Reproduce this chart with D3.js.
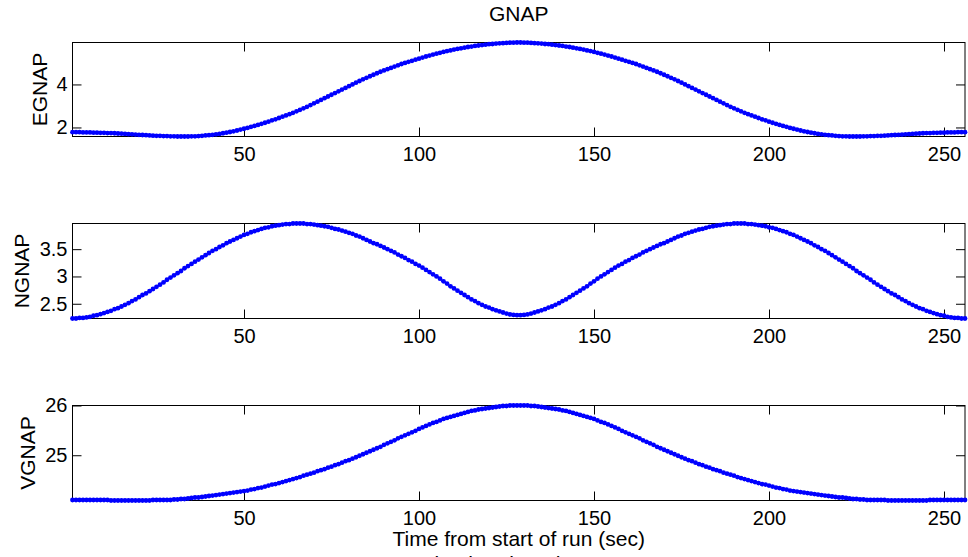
<!DOCTYPE html>
<html>
<head>
<meta charset="utf-8">
<script src="https://cdn.jsdelivr.net/npm/d3@7"></script>
<style>
  html, body { margin: 0; padding: 0; background: #fff; overflow: hidden; }
  svg { display: block; }
  text { font-family: "Liberation Sans", Arial, Helvetica, sans-serif; fill: #000; }
</style>
</head>
<body>
<svg id="chart" width="968" height="557"></svg>
<script>
// ---- data (time in seconds, 1..256) ----
const titleText = "GNAP";
const xLabelText = "Time from start of run (sec)";
const footerText = "Simulated Truth";
const xTicks = [50, 100, 150, 200, 250];

const egnapTicks = [2, 4];
const ngnapTicks = [2.5, 3, 3.5];
const vgnapTicks = [25, 26];

const egnap = [
1.78,1.78,1.78,1.77,1.77,1.77,1.76,1.76,1.75,1.75,
1.74,1.74,1.73,1.72,1.71,1.70,1.69,1.68,1.67,1.66,
1.65,1.64,1.63,1.62,1.61,1.61,1.60,1.60,1.59,1.59,
1.58,1.58,1.58,1.58,1.59,1.59,1.60,1.61,1.63,1.64,
1.66,1.68,1.70,1.73,1.76,1.79,1.82,1.86,1.90,1.94,
1.98,2.03,2.07,2.12,2.17,2.22,2.27,2.33,2.38,2.44,
2.50,2.56,2.62,2.68,2.75,2.82,2.89,2.96,3.04,3.12,
3.20,3.28,3.36,3.44,3.52,3.60,3.68,3.76,3.84,3.92,
4.00,4.08,4.16,4.24,4.31,4.38,4.45,4.52,4.59,4.65,
4.71,4.77,4.83,4.89,4.95,5.00,5.05,5.10,5.15,5.20,
5.25,5.30,5.34,5.39,5.43,5.47,5.51,5.55,5.58,5.62,
5.65,5.68,5.71,5.74,5.76,5.79,5.81,5.83,5.85,5.87,
5.88,5.90,5.91,5.92,5.93,5.94,5.94,5.95,
5.95,5.94,5.94,5.93,5.92,5.91,5.90,5.88,
5.87,5.85,5.83,5.81,5.79,5.76,5.74,5.71,5.68,5.65,
5.62,5.58,5.55,5.51,5.47,5.43,5.39,5.34,5.30,5.25,
5.20,5.15,5.10,5.05,5.00,4.95,4.89,4.83,4.77,4.71,
4.65,4.59,4.52,4.45,4.38,4.31,4.24,4.16,4.08,4.00,
3.92,3.84,3.76,3.68,3.60,3.52,3.44,3.36,3.28,3.20,
3.12,3.04,2.96,2.89,2.82,2.75,2.68,2.62,2.56,2.50,
2.44,2.38,2.33,2.27,2.22,2.17,2.12,2.07,2.03,1.98,
1.94,1.90,1.86,1.82,1.79,1.76,1.73,1.70,1.68,1.66,
1.64,1.63,1.61,1.60,1.59,1.59,1.58,1.58,1.58,1.58,
1.59,1.59,1.60,1.60,1.61,1.61,1.62,1.63,1.64,1.65,
1.66,1.67,1.68,1.69,1.70,1.71,1.72,1.73,1.74,1.74,
1.75,1.75,1.76,1.76,1.77,1.77,1.77,1.78,1.78,1.78
];

const ngnap = [
2.23,2.23,2.24,2.24,2.25,2.26,2.28,2.29,2.31,2.33,
2.35,2.37,2.40,2.42,2.45,2.48,2.51,2.55,2.58,2.62,
2.66,2.69,2.73,2.77,2.81,2.85,2.89,2.94,2.98,3.02,
3.06,3.10,3.15,3.19,3.23,3.27,3.31,3.35,3.39,3.43,
3.47,3.50,3.54,3.57,3.61,3.64,3.67,3.70,3.73,3.76,
3.78,3.81,3.83,3.85,3.87,3.89,3.90,3.92,3.93,3.94,
3.95,3.96,3.96,3.97,3.97,3.97,3.97,3.96,3.96,3.95,
3.94,3.93,3.92,3.91,3.89,3.87,3.86,3.84,3.82,3.80,
3.78,3.75,3.73,3.70,3.67,3.64,3.61,3.59,3.56,3.53,
3.50,3.47,3.44,3.40,3.37,3.34,3.30,3.27,3.23,3.20,
3.16,3.12,3.08,3.04,3.00,2.96,2.91,2.87,2.82,2.78,
2.74,2.70,2.66,2.62,2.58,2.55,2.51,2.48,2.45,2.43,
2.40,2.38,2.36,2.34,2.32,2.305,2.295,2.29,
2.29,2.295,2.305,2.32,2.34,2.36,2.38,2.40,
2.43,2.45,2.48,2.51,2.55,2.58,2.62,2.66,2.70,2.74,
2.78,2.82,2.87,2.91,2.96,3.00,3.04,3.08,3.12,3.16,
3.20,3.23,3.27,3.30,3.34,3.37,3.40,3.44,3.47,3.50,
3.53,3.56,3.59,3.61,3.64,3.67,3.70,3.73,3.75,3.78,
3.80,3.82,3.84,3.86,3.87,3.89,3.91,3.92,3.93,3.94,
3.95,3.96,3.96,3.97,3.97,3.97,3.97,3.96,3.96,3.95,
3.94,3.93,3.92,3.90,3.89,3.87,3.85,3.83,3.81,3.78,
3.76,3.73,3.70,3.67,3.64,3.61,3.57,3.54,3.50,3.47,
3.43,3.39,3.35,3.31,3.27,3.23,3.19,3.15,3.10,3.06,
3.02,2.98,2.94,2.89,2.85,2.81,2.77,2.73,2.69,2.66,
2.62,2.58,2.55,2.51,2.48,2.45,2.42,2.40,2.37,2.35,
2.33,2.31,2.29,2.28,2.26,2.25,2.24,2.24,2.23,2.23
];

const vgnap = [
24.10,24.10,24.10,24.10,24.10,24.10,24.10,24.10,24.10,24.10,
24.10,24.09,24.09,24.09,24.09,24.09,24.09,24.09,24.09,24.09,
24.09,24.09,24.09,24.10,24.10,24.10,24.10,24.10,24.10,24.11,
24.11,24.12,24.12,24.13,24.14,24.15,24.15,24.16,24.17,24.18,
24.19,24.20,24.21,24.22,24.23,24.24,24.25,24.26,24.27,24.28,
24.29,24.31,24.32,24.34,24.35,24.37,24.39,24.41,24.42,24.44,
24.46,24.48,24.50,24.52,24.54,24.56,24.59,24.61,24.63,24.65,
24.68,24.70,24.72,24.75,24.77,24.80,24.82,24.85,24.88,24.90,
24.93,24.96,24.99,25.02,25.05,25.08,25.11,25.14,25.17,25.21,
25.24,25.27,25.30,25.34,25.37,25.40,25.43,25.46,25.49,25.53,
25.56,25.59,25.62,25.65,25.67,25.70,25.73,25.75,25.77,25.79,
25.81,25.83,25.85,25.87,25.89,25.90,25.92,25.93,25.94,25.95,
25.96,25.97,25.98,25.99,25.99,26.00,26.00,26.00,
26.00,26.00,26.00,25.99,25.99,25.98,25.97,25.96,
25.95,25.94,25.93,25.92,25.90,25.89,25.87,25.85,25.83,25.81,
25.79,25.77,25.75,25.73,25.70,25.67,25.65,25.62,25.59,25.56,
25.53,25.49,25.46,25.43,25.40,25.37,25.34,25.30,25.27,25.24,
25.21,25.17,25.14,25.11,25.08,25.05,25.02,24.99,24.96,24.93,
24.90,24.88,24.85,24.82,24.80,24.77,24.75,24.72,24.70,24.68,
24.65,24.63,24.61,24.59,24.56,24.54,24.52,24.50,24.48,24.46,
24.44,24.42,24.41,24.39,24.37,24.35,24.34,24.32,24.31,24.29,
24.28,24.27,24.26,24.25,24.24,24.23,24.22,24.21,24.20,24.19,
24.18,24.17,24.16,24.15,24.15,24.14,24.13,24.12,24.12,24.11,
24.11,24.10,24.10,24.10,24.10,24.10,24.10,24.09,24.09,24.09,
24.09,24.09,24.09,24.09,24.09,24.09,24.09,24.09,24.09,24.10,
24.10,24.10,24.10,24.10,24.10,24.10,24.10,24.10,24.10,24.10
];

// ---- layout ----
const svg = d3.select("#chart");
const left = 72.5, right = 965;
const fontTick = 20, fontLabel = 21;
const tickLen = 9;
const color = "#0000ff";

const panels = [
  { name: "EGNAP", values: egnap, ticks: egnapTicks, top: 42.5, bottom: 136.5, labelX: 47 },
  { name: "NGNAP", values: ngnap, ticks: ngnapTicks, top: 223.5, bottom: 318.5, labelX: 29 },
  { name: "VGNAP", values: vgnap, ticks: vgnapTicks, top: 405.5, bottom: 500.5, labelX: 35 }
];

const x = d3.scaleLinear().domain([1, 256]).range([left, right]);

panels.forEach(p => {
  const data = p.values.map((v, i) => ({ t: i + 1, v }));
  const y = d3.scaleLinear().domain(d3.extent(p.values)).range([p.bottom, p.top]);
  const g = svg.append("g");

  const clipId = "clip-" + p.name;
  svg.append("clipPath").attr("id", clipId)
    .append("rect").attr("x", left - 3).attr("y", p.top - 3)
    .attr("width", right - left + 6).attr("height", p.bottom - p.top + 6);

  const xb = g.append("g").attr("transform", `translate(0,${p.bottom})`)
    .call(d3.axisBottom(x).tickValues(xTicks).tickSize(-tickLen).tickPadding(10).tickFormat(d3.format("d")));
  const xt = g.append("g").attr("transform", `translate(0,${p.top})`)
    .call(d3.axisTop(x).tickValues(xTicks).tickSize(-tickLen).tickFormat(""));
  const yl = g.append("g").attr("transform", `translate(${left},0)`)
    .call(d3.axisLeft(y).tickValues(p.ticks).tickSize(-tickLen).tickPadding(5).tickFormat(d3.format("")));
  const yr = g.append("g").attr("transform", `translate(${right},0)`)
    .call(d3.axisRight(y).tickValues(p.ticks).tickSize(-tickLen).tickFormat(""));
  [xb, xt, yl, yr].forEach(a => {
    a.select(".domain").remove();
    a.selectAll("line").attr("stroke", "#000").attr("stroke-width", 1);
    a.selectAll("text").attr("font-size", fontTick).attr("font-family", '"Liberation Sans", Arial, sans-serif').attr("fill", "#000");
  });

  g.append("rect").attr("x", left).attr("y", p.top)
    .attr("width", right - left).attr("height", p.bottom - p.top)
    .attr("fill", "none").attr("stroke", "#000").attr("stroke-width", 1);

  const plot = g.append("g").attr("clip-path", `url(#${clipId})`);
  plot.append("path").datum(data)
    .attr("fill", "none").attr("stroke", color).attr("stroke-width", 1.5)
    .attr("d", d3.line().x(d => x(d.t)).y(d => y(d.v)));
  plot.selectAll("circle").data(data).enter().append("circle")
    .attr("cx", d => x(d.t)).attr("cy", d => y(d.v)).attr("r", 2.4)
    .attr("fill", color);

  svg.append("text")
    .attr("transform", `translate(${p.labelX},${(p.top + p.bottom) / 2}) rotate(-90)`)
    .attr("text-anchor", "middle").attr("font-size", fontLabel)
    .text(p.name);
});

svg.append("text").attr("x", (left + right) / 2).attr("y", 21)
  .attr("text-anchor", "middle").attr("font-size", fontLabel).text(titleText);

svg.append("text").attr("x", (left + right) / 2).attr("y", 546)
  .attr("text-anchor", "middle").attr("font-size", fontLabel).text(xLabelText);

// footer: in the reference only the tops of its letters show at the bottom edge
svg.append("text").attr("x", 494).attr("y", 571)
  .attr("text-anchor", "middle").attr("font-size", fontLabel).text(footerText);
</script>
</body>
</html>
